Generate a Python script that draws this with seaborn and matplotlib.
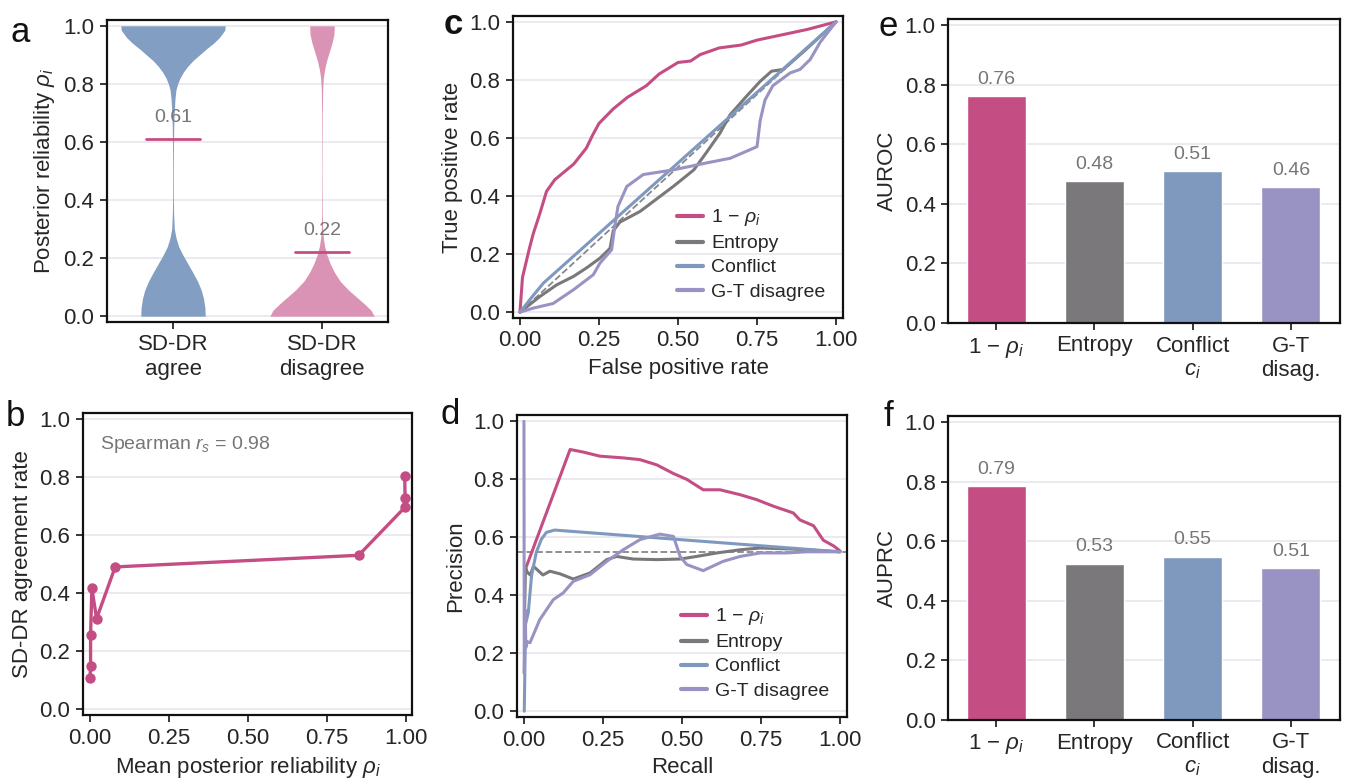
import numpy as np
import pandas as pd
import matplotlib
matplotlib.use("Agg")
import matplotlib.pyplot as plt
import seaborn as sns

# ---------------- data ----------------
# (a) violin density profiles (rho value, relative half width)
agree_rho = [1.0, 0.985, 0.96, 0.94, 0.92, 0.90, 0.88, 0.86, 0.84, 0.82, 0.80, 0.78, 0.75, 0.70,
             0.65, 0.60, 0.50, 0.40, 0.35, 0.30, 0.27, 0.24, 0.21, 0.18, 0.15, 0.12, 0.09, 0.06,
             0.03, 0.0]
agree_dens = [157, 156, 140, 122, 100, 80, 60, 44, 31, 21, 14, 9, 6, 3.5,
              2.2, 1.5, 1.0, 1.2, 2.0, 4, 9, 17, 30, 45, 60, 74, 85, 92, 96, 97]
disagree_rho = [1.0, 0.97, 0.94, 0.91, 0.88, 0.85, 0.82, 0.78, 0.70, 0.50, 0.35, 0.30, 0.27,
                0.24, 0.21, 0.18, 0.15, 0.12, 0.09, 0.06, 0.04, 0.02, 0.0]
disagree_dens = [37, 36, 30, 22, 14, 8, 4, 2, 1, 0.6, 1, 2, 4,
                 8, 15, 25, 38, 55, 80, 110, 130, 148, 157]
violin_groups = ["SD-DR\nagree", "SD-DR\ndisagree"]
violin_means = [0.61, 0.22]

# (b) agreement rate vs mean posterior reliability
b_rho = [0.0, 0.002, 0.002, 0.006, 0.021, 0.08, 0.851, 0.999, 0.998, 0.997]
b_agree = [0.106, 0.148, 0.255, 0.417, 0.312, 0.49, 0.53, 0.697, 0.728, 0.804]
spearman = 0.98

# (c) ROC curves
roc_rho_fpr = [0, 0.008, 0.019, 0.03, 0.042, 0.063, 0.084, 0.11, 0.17, 0.21, 0.23, 0.25, 0.295,
               0.34, 0.40, 0.44, 0.50, 0.54, 0.57, 0.63, 0.70, 0.75, 0.85, 0.91, 1.0]
roc_rho_tpr = [0, 0.12, 0.17, 0.22, 0.27, 0.34, 0.416, 0.456, 0.51, 0.565, 0.61, 0.65, 0.70,
               0.74, 0.78, 0.82, 0.86, 0.865, 0.887, 0.91, 0.92, 0.937, 0.96, 0.974, 1.0]
roc_ent_fpr = [0, 0.063, 0.116, 0.169, 0.21, 0.253, 0.285, 0.295, 0.316, 0.38, 0.485, 0.55, 0.59,
               0.633, 0.665, 0.717, 0.76, 0.796, 0.833, 0.9, 1.0]
roc_ent_tpr = [0, 0.054, 0.094, 0.123, 0.152, 0.186, 0.22, 0.28, 0.31, 0.347, 0.433, 0.49, 0.55,
               0.617, 0.68, 0.744, 0.795, 0.83, 0.836, 0.9, 1.0]
roc_con_fpr = [0, 0.04, 0.074, 1.0]
roc_con_tpr = [0, 0.055, 0.10, 1.0]
roc_gt_fpr = [0, 0.042, 0.105, 0.169, 0.232, 0.253, 0.29, 0.30, 0.31, 0.338, 0.39, 0.485, 0.59,
              0.665, 0.75, 0.76, 0.775, 0.80, 0.855, 0.886, 0.918, 0.95, 1.0]
roc_gt_tpr = [0, 0.014, 0.03, 0.077, 0.129, 0.169, 0.215, 0.295, 0.364, 0.433, 0.474, 0.49, 0.514,
              0.53, 0.57, 0.66, 0.73, 0.78, 0.824, 0.836, 0.87, 0.93, 1.0]

# (d) precision-recall curves
pr_rho_rec = [0.008, 0.146, 0.188, 0.24, 0.314, 0.367, 0.42, 0.473, 0.515, 0.567, 0.62, 0.684,
              0.736, 0.79, 0.852, 0.873, 0.916, 0.947, 0.98, 1.0]
pr_rho_prec = [0.50, 0.903, 0.894, 0.88, 0.874, 0.868, 0.85, 0.82, 0.80, 0.764, 0.764, 0.747,
               0.73, 0.707, 0.684, 0.66, 0.64, 0.59, 0.57, 0.553]
pr_ent_rec = [0.002, 0.005, 0.01, 0.02, 0.03, 0.04, 0.06, 0.082, 0.114, 0.156, 0.209, 0.262, 0.293,
              0.346, 0.42, 0.494, 0.546, 0.61, 0.684, 0.747, 0.84, 1.0]
pr_ent_prec = [0.35, 0.50, 0.48, 0.47, 0.50, 0.49, 0.47, 0.483, 0.474, 0.456, 0.477, 0.523, 0.534,
               0.525, 0.523, 0.525, 0.534, 0.546, 0.557, 0.563, 0.56, 0.55]
pr_con_rec = [0.001, 0.005, 0.0137, 0.024, 0.039, 0.055, 0.071, 0.097, 1.0]
pr_con_prec = [0.0, 0.30, 0.34, 0.467, 0.548, 0.593, 0.617, 0.625, 0.55]
pr_gt_rec = [0.0, 0.001, 0.004, 0.006, 0.01, 0.019, 0.05, 0.093, 0.124, 0.156, 0.209, 0.262,
             0.314, 0.367, 0.43, 0.473, 0.494, 0.515, 0.567, 0.63, 0.684, 0.747, 0.83, 0.895, 1.0]
pr_gt_prec = [1.0, 0.13, 0.35, 0.22, 0.24, 0.236, 0.316, 0.385, 0.408, 0.448, 0.471, 0.517,
              0.557, 0.592, 0.611, 0.603, 0.534, 0.506, 0.485, 0.517, 0.534, 0.546, 0.546, 0.55, 0.55]
pr_baseline = 0.55

# (e,f) summary bars
methods = ["1 \u2212 $\\rho_i$", "Entropy", "Conflict\n$c_i$", "G-T\ndisag."]
auroc = [0.76, 0.475, 0.51, 0.455]
auroc_labels = ["0.76", "0.48", "0.51", "0.46"]
auprc = [0.785, 0.525, 0.548, 0.51]
auprc_labels = ["0.79", "0.53", "0.55", "0.51"]
legend_names = ["1 \u2212 $\\rho_i$", "Entropy", "Conflict", "G-T disagree"]

# ---------------- style ----------------
PINK = "#C44E84"
GRAY = "#7A787B"
BLUE = "#7F99BE"
PURPLE = "#9893C2"
VIOL_A = "#839EC3"
VIOL_D = "#DB93B5"
GRID = "#E4E4EC"
LBL = "#767676"
TXT = "#262626"

sns.set_theme(style="ticks")
plt.rcParams["font.family"] = ["Liberation Sans", "DejaVu Sans"]
plt.rcParams["mathtext.fontset"] = "custom"
plt.rcParams["mathtext.rm"] = "Liberation Sans"
plt.rcParams["mathtext.it"] = "Liberation Sans:italic"
plt.rcParams["mathtext.bf"] = "Liberation Sans:bold"
plt.rcParams.update({
    "axes.linewidth": 1.6,
    "axes.edgecolor": "#111111",
    "xtick.major.width": 1.3,
    "ytick.major.width": 1.3,
    "xtick.major.size": 5,
    "ytick.major.size": 5,
    "xtick.major.pad": 4,
    "ytick.major.pad": 4,
    "xtick.labelsize": 16,
    "ytick.labelsize": 16,
    "axes.labelsize": 16,
    "axes.labelpad": 5,
    "xtick.color": TXT,
    "ytick.color": TXT,
    "axes.labelcolor": TXT,
    "text.color": TXT,
})

W, H = 1347, 784
fig = plt.figure(figsize=(W / 100, H / 100), dpi=100)


def add_ax(l, r, t, b):
    return fig.add_axes([l / W, (H - b) / H, (r - l) / W, (b - t) / H])


ax_a = add_ax(107, 388, 20, 322)
ax_b = add_ax(83, 412, 413, 715)
ax_c = add_ax(513, 843, 16, 318)
ax_d = add_ax(517, 847, 415, 717)
ax_e = add_ax(948, 1340, 19, 323)
ax_f = add_ax(948, 1340, 416, 720)


def ygrid(ax):
    ax.set_axisbelow(True)
    ax.yaxis.grid(True, color=GRID, lw=1.1)
    ax.xaxis.grid(False)
    for s in ax.spines.values():
        s.set_visible(True)


# ---- (a) violins ----
half = 0.35 / 157.0
for i, (rho, dens, col) in enumerate([(agree_rho, agree_dens, VIOL_A),
                                       (disagree_rho, disagree_dens, VIOL_D)]):
    rho = np.asarray(rho)
    w = np.asarray(dens) * half
    ax_a.fill_betweenx(rho, i - w, i + w, color=col, lw=0, zorder=2)
    ax_a.plot([i - 0.18, i + 0.18], [violin_means[i]] * 2, color=PINK, lw=2.0, zorder=3)
    ax_a.text(i, violin_means[i] + 0.045, f"{violin_means[i]:.2f}", ha="center", va="bottom",
              color=LBL, fontsize=14)
ax_a.set_xlim(-0.443, 1.443)
ax_a.set_ylim(-0.02, 1.02)
ax_a.set_xticks([0, 1])
ax_a.set_xticklabels(violin_groups)
ax_a.set_yticks(np.arange(0, 1.01, 0.2))
ax_a.set_ylabel("Posterior reliability $\\rho_i$")
ygrid(ax_a)

# ---- (b) ----
sns.lineplot(x=b_rho, y=b_agree, ax=ax_b, sort=False, estimator=None, color=PINK, lw=2.4,
             marker="o", markersize=7.5, markeredgewidth=0)
ax_b.set_xlim(-0.022, 1.02)
ax_b.set_ylim(-0.02, 1.02)
ax_b.set_xticks([0, 0.25, 0.5, 0.75, 1.0])
ax_b.set_xticklabels(["0.00", "0.25", "0.50", "0.75", "1.00"])
ax_b.set_yticks(np.arange(0, 1.01, 0.2))
ax_b.set_xlabel("Mean posterior reliability $\\rho_i$")
ax_b.set_ylabel("SD-DR agreement rate")
ax_b.text(0.052, 0.895, f"Spearman $r_s$ = {spearman:.2f}", transform=ax_b.transAxes,
          color=LBL, fontsize=14, va="center")
ygrid(ax_b)

# ---- (c) ROC ----
ax_c.plot([0, 1], [0, 1], ls="--", color="#888888", lw=1.3, zorder=2)
for fx, ty, col, name in [(roc_rho_fpr, roc_rho_tpr, PINK, legend_names[0]),
                          (roc_ent_fpr, roc_ent_tpr, GRAY, legend_names[1]),
                          (roc_con_fpr, roc_con_tpr, BLUE, legend_names[2]),
                          (roc_gt_fpr, roc_gt_tpr, PURPLE, legend_names[3])]:
    sns.lineplot(x=fx, y=ty, ax=ax_c, sort=False, estimator=None, color=col, lw=2.2, label=name)
ax_c.set_xlim(-0.022, 1.022)
ax_c.set_ylim(-0.02, 1.02)
ax_c.set_xticks([0, 0.25, 0.5, 0.75, 1.0])
ax_c.set_xticklabels(["0.00", "0.25", "0.50", "0.75", "1.00"])
ax_c.set_yticks(np.arange(0, 1.01, 0.2))
ax_c.set_xlabel("False positive rate")
ax_c.set_ylabel("True positive rate")
ax_c.legend(loc="lower right", frameon=False, fontsize=14, handlelength=1.3,
            handletextpad=0.45, labelspacing=0.33, borderaxespad=0.5)
for ln in ax_c.get_legend().get_lines():
    ln.set_linewidth(3.0)
ygrid(ax_c)

# ---- (d) PR ----
ax_d.axhline(pr_baseline, ls="--", color="#888888", lw=1.3, zorder=2)
for rx, py, col, name in [(pr_rho_rec, pr_rho_prec, PINK, legend_names[0]),
                          (pr_ent_rec, pr_ent_prec, GRAY, legend_names[1]),
                          (pr_con_rec, pr_con_prec, BLUE, legend_names[2]),
                          (pr_gt_rec, pr_gt_prec, PURPLE, legend_names[3])]:
    sns.lineplot(x=rx, y=py, ax=ax_d, sort=False, estimator=None, color=col, lw=2.2, label=name)
ax_d.set_xlim(-0.022, 1.022)
ax_d.set_ylim(-0.02, 1.022)
ax_d.set_xticks([0, 0.25, 0.5, 0.75, 1.0])
ax_d.set_xticklabels(["0.00", "0.25", "0.50", "0.75", "1.00"])
ax_d.set_yticks(np.arange(0, 1.01, 0.2))
ax_d.set_xlabel("Recall")
ax_d.set_ylabel("Precision")
ax_d.legend(loc="lower right", frameon=False, fontsize=14, handlelength=1.3,
            handletextpad=0.45, labelspacing=0.33, borderaxespad=0.5)
for ln in ax_d.get_legend().get_lines():
    ln.set_linewidth(3.0)
ygrid(ax_d)

# ---- (e,f) bars ----
bar_cols = [PINK, GRAY, BLUE, PURPLE]
for ax, vals, labs, ylab in [(ax_e, auroc, auroc_labels, "AUROC"),
                             (ax_f, auprc, auprc_labels, "AUPRC")]:
    df = pd.DataFrame({"method": methods, "value": vals})
    sns.barplot(data=df, x="method", y="value", hue="method", palette=bar_cols, legend=False,
                ax=ax, width=0.6, saturation=1, edgecolor="white", linewidth=1)
    for i, (v, t) in enumerate(zip(vals, labs)):
        ax.text(i, v + 0.028, t, ha="center", va="bottom", color=LBL, fontsize=14)
    ax.set_xlim(-0.49, 3.5)
    ax.set_ylim(0, 1.02)
    ax.set_yticks(np.arange(0, 1.01, 0.2))
    ax.set_xlabel("")
    ax.set_ylabel(ylab)
    ygrid(ax)

# panel letters
for x, y, s, wgt in [(10, 16, "a", "normal"), (6, 400, "b", "normal"), (444, 8, "c", "bold"),
                     (440, 398, "d", "normal"), (878, 10, "e", "normal"), (884, 400, "f", "normal")]:
    fig.text(x / W, 1 - y / H, s, fontsize=25, fontweight=wgt, va="top", ha="left", color="#111111")

fig.savefig("out.png", dpi=100)
